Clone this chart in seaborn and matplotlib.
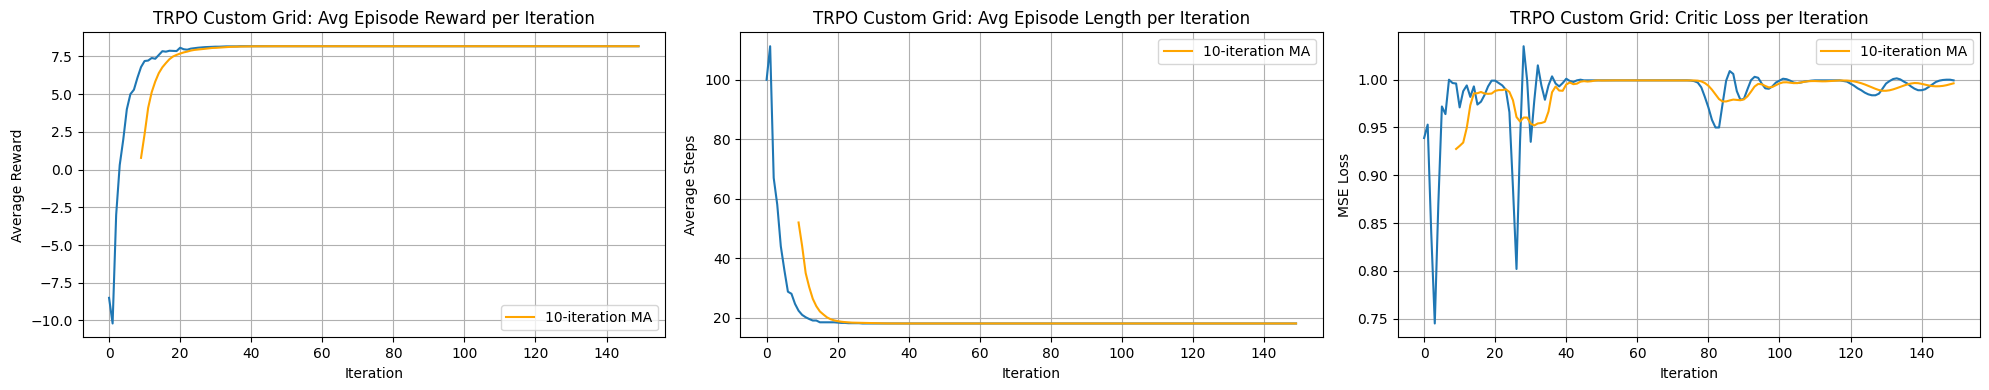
import numpy as np
import pandas as pd
import seaborn as sns
import matplotlib
matplotlib.use("Agg")
import matplotlib.pyplot as plt

# raw per-iteration values (iterations 0..149)
avg_reward = [
    -8.5, -10.2, -3.0, 0.3, 2.0, 4.0, 5.0, 5.3, 6.1, 6.8,
    7.2, 7.23, 7.4, 7.35, 7.6, 7.85, 7.82, 7.88, 7.87, 7.86,
    8.08, 7.98, 7.95, 8.02, 8.05, 8.08, 8.1, 8.12, 8.13, 8.14,
    8.15, 8.15, 8.16, 8.17, 8.17, 8.17, 8.17, 8.18, 8.18, 8.18,
    8.18, 8.18, 8.18, 8.18, 8.18, 8.18, 8.18, 8.18, 8.18, 8.18,
    8.18, 8.18, 8.18, 8.18, 8.18, 8.18, 8.18, 8.18, 8.18, 8.18,
    8.18, 8.18, 8.18, 8.18, 8.18, 8.18, 8.18, 8.18, 8.18, 8.18,
    8.18, 8.18, 8.18, 8.18, 8.18, 8.18, 8.18, 8.18, 8.18, 8.18,
    8.18, 8.18, 8.18, 8.18, 8.18, 8.18, 8.18, 8.18, 8.18, 8.18,
    8.18, 8.18, 8.18, 8.18, 8.18, 8.18, 8.18, 8.18, 8.18, 8.18,
    8.18, 8.18, 8.18, 8.18, 8.18, 8.18, 8.18, 8.18, 8.18, 8.18,
    8.18, 8.18, 8.18, 8.18, 8.18, 8.18, 8.18, 8.18, 8.18, 8.18,
    8.18, 8.18, 8.18, 8.18, 8.18, 8.18, 8.18, 8.18, 8.18, 8.18,
    8.18, 8.18, 8.18, 8.18, 8.18, 8.18, 8.18, 8.18, 8.18, 8.18,
    8.18, 8.18, 8.18, 8.18, 8.18, 8.18, 8.18, 8.18, 8.18, 8.18,
]

avg_steps = [
    100.0, 111.3, 67.0, 58.0, 44.0, 36.0, 28.7, 28.0, 24.6, 22.3,
    20.9, 20.1, 19.5, 19.0, 19.0, 18.4, 18.4, 18.4, 18.4, 18.4,
    18.3, 18.2, 18.2, 18.1, 18.1, 18.1, 18.1, 18.0, 18.0, 18.0,
    18.0, 18.0, 18.0, 18.0, 18.0, 18.0, 18.0, 18.0, 18.0, 18.0,
    18.0, 18.0, 18.0, 18.0, 18.0, 18.0, 18.0, 18.0, 18.0, 18.0,
    18.0, 18.0, 18.0, 18.0, 18.0, 18.0, 18.0, 18.0, 18.0, 18.0,
    18.0, 18.0, 18.0, 18.0, 18.0, 18.0, 18.0, 18.0, 18.0, 18.0,
    18.0, 18.0, 18.0, 18.0, 18.0, 18.0, 18.0, 18.0, 18.0, 18.0,
    18.0, 18.0, 18.0, 18.0, 18.0, 18.0, 18.0, 18.0, 18.0, 18.0,
    18.0, 18.0, 18.0, 18.0, 18.0, 18.0, 18.0, 18.0, 18.0, 18.0,
    18.0, 18.0, 18.0, 18.0, 18.0, 18.0, 18.0, 18.0, 18.0, 18.0,
    18.0, 18.0, 18.0, 18.0, 18.0, 18.0, 18.0, 18.0, 18.0, 18.0,
    18.0, 18.0, 18.0, 18.0, 18.0, 18.0, 18.0, 18.0, 18.0, 18.0,
    18.0, 18.0, 18.0, 18.0, 18.0, 18.0, 18.0, 18.0, 18.0, 18.0,
    18.0, 18.0, 18.0, 18.0, 18.0, 18.0, 18.0, 18.0, 18.0, 18.0,
]

critic_loss = [
    0.939, 0.953, 0.840, 0.745, 0.870, 0.972, 0.964, 1.000, 0.9965, 0.996,
    0.971, 0.988, 0.994, 0.982, 0.993, 0.974, 0.977, 0.984, 0.993, 0.999,
    0.999, 0.9965, 0.994, 0.9895, 0.966, 0.887, 0.802, 0.936, 1.035, 0.999,
    0.935, 0.978, 1.015, 0.994, 0.979, 0.994, 1.0035, 0.996, 0.993, 0.9965,
    1.001, 0.9986, 0.9976, 0.9993, 1.000, 0.9993, 0.9993, 0.9993, 0.9993, 0.9993,
    0.9993, 0.9993, 0.9993, 0.9993, 0.9993, 0.9993, 0.9993, 0.9993, 0.9993, 0.9993,
    0.9993, 0.9993, 0.9993, 0.9993, 0.9993, 0.9993, 0.9993, 0.9993, 0.9993, 0.9993,
    0.9993, 0.9993, 0.9993, 0.9993, 0.9993, 0.9991, 0.9985, 0.997, 0.992, 0.982,
    0.971, 0.958, 0.950, 0.950, 0.975, 0.999, 1.009, 1.006, 0.988, 0.979,
    0.980, 0.990, 0.9995, 1.003, 1.002, 0.996, 0.991, 0.9905, 0.993, 0.997,
    0.999, 1.001, 1.0005, 0.999, 0.997, 0.9965, 0.997, 0.998, 0.9985, 0.999,
    0.9993, 0.9993, 0.9993, 0.9993, 0.9993, 0.9993, 0.9993, 0.9993, 0.9986, 0.998,
    0.9958, 0.9937, 0.991, 0.989, 0.9865, 0.9847, 0.9837, 0.9837, 0.9854, 0.9906,
    0.996, 0.9986, 1.0007, 1.0014, 1.0003, 0.998, 0.996, 0.993, 0.9906, 0.989,
    0.989, 0.990, 0.9924, 0.995, 0.9976, 0.999, 0.9997, 1.000, 1.000, 0.9993,
]

window = 10
panels = [
    (avg_reward, "TRPO Custom Grid: Avg Episode Reward per Iteration", "Average Reward", "lower right"),
    (avg_steps, "TRPO Custom Grid: Avg Episode Length per Iteration", "Average Steps", "upper right"),
    (critic_loss, "TRPO Custom Grid: Critic Loss per Iteration", "MSE Loss", "upper right"),
]

fig, axes = plt.subplots(1, 3, figsize=(19.9, 3.9), dpi=100)

for ax, (vals, title, ylabel, loc) in zip(axes, panels):
    df = pd.DataFrame({"Iteration": np.arange(len(vals)), "value": vals})
    df["ma"] = df["value"].rolling(window).mean()
    ma = df.dropna()

    sns.lineplot(data=df, x="Iteration", y="value", ax=ax, color="tab:blue")
    sns.lineplot(data=ma, x="Iteration", y="ma", ax=ax, color="orange",
                 label=f"{window}-iteration MA")

    ax.set_title(title)
    ax.set_xlabel("Iteration")
    ax.set_ylabel(ylabel)
    ax.grid(True)
    ax.legend(loc=loc)

fig.subplots_adjust(left=0.0415, right=0.995, bottom=0.135, top=0.917, wspace=0.129)
plt.savefig("out.png", dpi=100)
